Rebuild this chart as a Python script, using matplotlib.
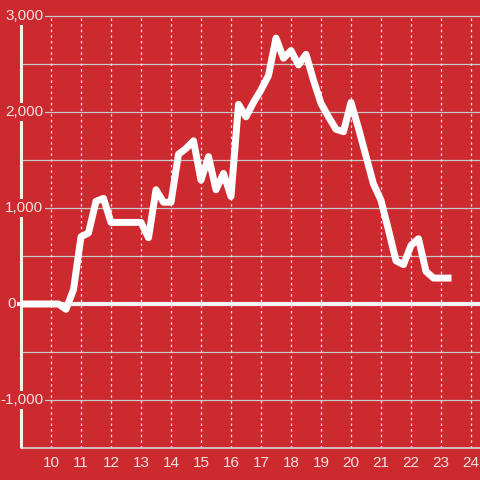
import matplotlib
matplotlib.use("Agg")
import matplotlib.pyplot as plt
from matplotlib.transforms import blended_transform_factory

# ---- data ----
hours = [9.0, 9.25, 9.5, 9.75, 10.0, 10.25, 10.5, 10.75, 11.0, 11.25, 11.5, 11.75,
         12.0, 12.25, 12.5, 12.75, 13.0, 13.25, 13.5, 13.75, 14.0, 14.25, 14.5, 14.75,
         15.0, 15.25, 15.5, 15.75, 16.0, 16.25, 16.5, 16.75, 17.0, 17.25, 17.5, 17.75,
         18.0, 18.25, 18.5, 18.75, 19.0, 19.25, 19.5, 19.75, 20.0, 20.25, 20.5, 20.75,
         21.0, 21.25, 21.5, 21.75, 22.0, 22.25, 22.5, 22.75, 23.0, 23.35]
values = [0, 0, 0, 0, 0, 0, -55, 150, 700, 740, 1070, 1100,
          850, 850, 850, 850, 850, 690, 1190, 1060, 1060, 1560, 1620, 1700,
          1290, 1535, 1190, 1360, 1120, 2080, 1950, 2100, 2230, 2380, 2770, 2560,
          2640, 2490, 2600, 2330, 2090, 1950, 1820, 1795, 2100, 1830, 1540, 1250,
          1080, 770, 450, 410, 610, 680, 340, 270, 270, 270]
x_ticks = [10, 11, 12, 13, 14, 15, 16, 17, 18, 19, 20, 21, 22, 23, 24]
y_grid = [3000, 2500, 2000, 1500, 1000, 500, -500, -1000]
y_labels = {3000: "3,000", 2000: "2,000", 1000: "1,000", 0: "0", -1000: "-1,000"}

BG = "#cc2a2f"
TXT = "#f3e1e1"

fig = plt.figure(figsize=(4.8, 4.8), dpi=100, facecolor=BG)
ax = fig.add_axes([21 / 480, 32 / 480, 459 / 480, 448 / 480])
ax.set_facecolor(BG)
ax.set_xlim(9, 9 + 459 / 30)
ax.set_ylim(-1500, 3000 + 16 * 1000 / 96)
for s in ax.spines.values():
    s.set_visible(False)
ax.set_xticks([])
ax.set_yticks([])

# horizontal gridlines
ax.hlines(y_grid, 9, 24.3, colors="#c9c9c9", linewidth=0.9, zorder=1)
# vertical dotted gridlines
ax.vlines(x_ticks, -1500, 3000, colors="#e6e6e6", linewidth=0.9,
          linestyles=(0, (2, 2.5)), zorder=1)
# bottom line
ax.hlines([-1500], 9, 24.3, colors="#d8d8d8", linewidth=1.2, zorder=2, clip_on=False)
# left axis line
ax.vlines([9], -1500, 2917, colors="#f0f0f0", linewidth=2.2, zorder=3, clip_on=False)
# zero line
ax.hlines([0], 9 - 4 / 30, 24.3, colors="#f5f5f5", linewidth=3.0, zorder=3, clip_on=False)

# data line
ax.plot(hours, values, color="white", linewidth=5.0, solid_joinstyle="round",
        solid_capstyle="butt", zorder=5)

# y labels
tr = blended_transform_factory(fig.transFigure, ax.transData)
for v, lab in y_labels.items():
    xr = 15.5 if v == 0 else 43.5
    ax.text(xr / 480, v, lab, transform=tr, ha="right", va="center",
            fontsize=11, color=TXT, family="Liberation Sans", zorder=6,
            bbox=dict(boxstyle="square,pad=0.12", facecolor=BG, edgecolor="none"),
            clip_on=False)

# x labels
for h in x_ticks:
    ax.text(h, -1500 - 15 * 1000 / 96, str(h), ha="center", va="center",
            fontsize=11, color=TXT, family="Liberation Sans", clip_on=False)

fig.savefig("out.png", dpi=100, facecolor=BG)
